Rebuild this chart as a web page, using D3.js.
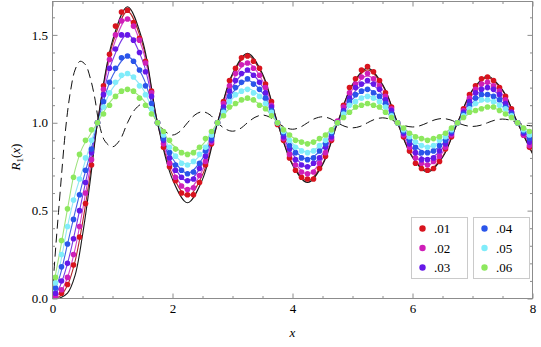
<!DOCTYPE html>
<html>
<head>
<meta charset="utf-8">
<script src="https://cdn.jsdelivr.net/npm/d3@7"></script>
<style>
  html, body { margin: 0; padding: 0; background: #fff; }
  svg, svg text { font-family: "Liberation Serif", "Times New Roman", serif; }
</style>
</head>
<body>
<svg id="chart" width="541" height="347"></svg>
<script>
// ---- data -------------------------------------------------------------
// abscissae of the smooth curves
const fitX = [0, 0.125, 0.25, 0.375, 0.5, 0.625, 0.75, 1, 1.25, 1.5, 1.75, 2, 2.25, 2.5, 2.75,
  3, 3.25, 3.5, 3.75, 4, 4.25, 4.5, 4.75, 5, 5.25, 5.5, 5.75, 6, 6.25, 6.5, 6.75, 7, 7.25, 7.5, 7.75, 8];

// limiting curve (solid black)
const theory = [0, 0.003, 0.03, 0.13, 0.36, 0.66, 1, 1.467, 1.66, 1.467, 1, 0.678, 0.545, 0.678, 1,
  1.279, 1.395, 1.279, 1, 0.76, 0.66, 0.76, 1, 1.219, 1.31, 1.219, 1, 0.802, 0.72, 0.802, 1, 1.187, 1.265, 1.187, 1, 0.823];

// fitted curves, one per parameter value
const fit01 = [0, 0.012, 0.075, 0.21, 0.43, 0.70, 1, 1.448, 1.634, 1.448, 1, 0.704, 0.581, 0.704, 1,
  1.271, 1.383, 1.271, 1, 0.767, 0.670, 0.767, 1, 1.213, 1.301, 1.213, 1, 0.808, 0.728, 0.808, 1, 1.182, 1.257, 1.182, 1, 0.828];
const fit02 = [0, 0.03, 0.12, 0.28, 0.50, 0.74, 1, 1.420, 1.594, 1.420, 1, 0.730, 0.618, 0.730, 1,
  1.240, 1.340, 1.240, 1, 0.794, 0.708, 0.794, 1, 1.189, 1.267, 1.189, 1, 0.830, 0.759, 0.830, 1, 1.161, 1.228, 1.161, 1, 0.848];
const fit03 = [0, 0.07, 0.20, 0.38, 0.58, 0.78, 1, 1.355, 1.502, 1.355, 1, 0.765, 0.668, 0.765, 1,
  1.206, 1.292, 1.206, 1, 0.822, 0.748, 0.822, 1, 1.162, 1.229, 1.162, 1, 0.854, 0.793, 0.854, 1, 1.139, 1.196, 1.139, 1, 0.869];
const fit04 = [0.01, 0.13, 0.31, 0.49, 0.66, 0.82, 1, 1.266, 1.376, 1.266, 1, 0.797, 0.713, 0.797, 1,
  1.170, 1.241, 1.170, 1, 0.854, 0.793, 0.854, 1, 1.134, 1.189, 1.134, 1, 0.879, 0.829, 0.879, 1, 1.115, 1.162, 1.115, 1, 0.892];
const fit05 = [0.02, 0.19, 0.41, 0.59, 0.73, 0.87, 1, 1.196, 1.277, 1.196, 1, 0.832, 0.763, 0.832, 1,
  1.137, 1.194, 1.137, 1, 0.882, 0.833, 0.882, 1, 1.107, 1.152, 1.107, 1, 0.903, 0.863, 0.903, 1, 1.092, 1.130, 1.092, 1, 0.913];
const fit06 = [0.05, 0.27, 0.51, 0.73, 0.86, 0.93, 1, 1.135, 1.191, 1.135, 1, 0.875, 0.823, 0.875, 1,
  1.095, 1.134, 1.095, 1, 0.918, 0.884, 0.918, 1, 1.074, 1.105, 1.074, 1, 0.933, 0.905, 0.933, 1, 1.064, 1.090, 1.064, 1, 0.940];

// sampled points at x = 0.05, 0.15, ..., 7.95
const dotX = d3.range(80).map(i => +(0.05 + 0.1 * i).toFixed(2));
const dots01 = [0.01, 0.03, 0.08, 0.19, 0.35, 0.54, 0.76, 1.00,
  1.21, 1.39, 1.55, 1.63, 1.64, 1.57, 1.48, 1.35, 1.18, 1.00,
  0.86, 0.75, 0.67, 0.60, 0.59, 0.59, 0.66, 0.76, 0.88, 1.00,
  1.12, 1.24, 1.31, 1.37, 1.38, 1.35, 1.31, 1.22, 1.12, 0.99,
  0.90, 0.80, 0.73, 0.69, 0.68, 0.68, 0.74, 0.81, 0.90, 1.00,
  1.10, 1.20, 1.25, 1.30, 1.32, 1.29, 1.24, 1.17, 1.09, 1.00,
  0.92, 0.84, 0.77, 0.74, 0.73, 0.74, 0.78, 0.85, 0.92, 1.00,
  1.08, 1.16, 1.21, 1.25, 1.26, 1.24, 1.20, 1.15, 1.08, 1.00,
  0.93, 0.86];
const dots02 = [0.01, 0.05, 0.12, 0.25, 0.41, 0.60, 0.79, 1.00,
  1.19, 1.36, 1.50, 1.58, 1.59, 1.55, 1.47, 1.34, 1.17, 1.00,
  0.88, 0.77, 0.69, 0.64, 0.62, 0.63, 0.70, 0.78, 0.89, 1.00,
  1.11, 1.21, 1.28, 1.33, 1.34, 1.31, 1.27, 1.20, 1.10, 1.00,
  0.91, 0.82, 0.76, 0.72, 0.71, 0.72, 0.77, 0.83, 0.91, 1.01,
  1.09, 1.17, 1.22, 1.26, 1.28, 1.25, 1.21, 1.15, 1.08, 1.00,
  0.93, 0.86, 0.80, 0.77, 0.76, 0.78, 0.81, 0.86, 0.93, 1.00,
  1.07, 1.14, 1.19, 1.22, 1.23, 1.21, 1.18, 1.13, 1.06, 1.00,
  0.93, 0.87];
const dots03 = [0.03, 0.10, 0.20, 0.34, 0.50, 0.66, 0.83, 1.00,
  1.16, 1.31, 1.42, 1.50, 1.50, 1.47, 1.40, 1.29, 1.15, 1.00,
  0.90, 0.80, 0.73, 0.69, 0.67, 0.68, 0.74, 0.81, 0.90, 1.00,
  1.09, 1.18, 1.24, 1.28, 1.30, 1.27, 1.23, 1.17, 1.09, 1.00,
  0.92, 0.85, 0.79, 0.76, 0.75, 0.77, 0.80, 0.86, 0.92, 1.00,
  1.07, 1.14, 1.20, 1.22, 1.24, 1.22, 1.19, 1.13, 1.07, 1.00,
  0.94, 0.88, 0.83, 0.79, 0.79, 0.80, 0.84, 0.88, 0.94, 1.00,
  1.06, 1.12, 1.17, 1.19, 1.20, 1.19, 1.16, 1.11, 1.06, 1.00,
  0.94, 0.89];
const dots04 = [0.06, 0.18, 0.31, 0.45, 0.59, 0.73, 0.85, 1.00,
  1.12, 1.23, 1.31, 1.37, 1.38, 1.35, 1.30, 1.21, 1.11, 1.00,
  0.91, 0.83, 0.76, 0.73, 0.71, 0.72, 0.77, 0.84, 0.91, 1.00,
  1.07, 1.15, 1.20, 1.23, 1.25, 1.22, 1.19, 1.14, 1.07, 1.00,
  0.94, 0.87, 0.83, 0.80, 0.79, 0.80, 0.84, 0.88, 0.94, 1.00,
  1.06, 1.12, 1.16, 1.18, 1.19, 1.17, 1.15, 1.11, 1.05, 1.00,
  0.95, 0.90, 0.86, 0.83, 0.83, 0.84, 0.87, 0.90, 0.95, 1.00,
  1.05, 1.10, 1.14, 1.16, 1.16, 1.15, 1.13, 1.09, 1.05, 1.00,
  0.95, 0.91];
const dots05 = [0.09, 0.25, 0.41, 0.56, 0.68, 0.80, 0.90, 1.00,
  1.09, 1.17, 1.23, 1.27, 1.28, 1.26, 1.21, 1.16, 1.08, 1.00,
  0.93, 0.86, 0.81, 0.77, 0.76, 0.78, 0.82, 0.86, 0.93, 1.00,
  1.06, 1.12, 1.16, 1.18, 1.19, 1.17, 1.15, 1.11, 1.06, 1.00,
  0.95, 0.90, 0.86, 0.84, 0.83, 0.84, 0.87, 0.90, 0.95, 1.00,
  1.05, 1.10, 1.12, 1.14, 1.15, 1.14, 1.12, 1.09, 1.04, 1.00,
  0.96, 0.92, 0.89, 0.87, 0.86, 0.87, 0.90, 0.92, 0.96, 1.00,
  1.04, 1.08, 1.11, 1.13, 1.13, 1.12, 1.10, 1.08, 1.04, 1.00,
  0.96, 0.93];
const dots06 = [0.12, 0.33, 0.51, 0.69, 0.82, 0.90, 0.96, 1.00,
  1.05, 1.10, 1.15, 1.18, 1.19, 1.18, 1.14, 1.10, 1.05, 1.00,
  0.95, 0.90, 0.85, 0.83, 0.82, 0.83, 0.86, 0.91, 0.95, 1.00,
  1.04, 1.09, 1.11, 1.13, 1.14, 1.13, 1.10, 1.08, 1.04, 1.00,
  0.96, 0.93, 0.90, 0.89, 0.88, 0.89, 0.91, 0.93, 0.96, 1.00,
  1.03, 1.06, 1.09, 1.10, 1.11, 1.10, 1.09, 1.06, 1.03, 1.00,
  0.97, 0.94, 0.92, 0.91, 0.90, 0.91, 0.92, 0.94, 0.97, 1.00,
  1.03, 1.06, 1.07, 1.08, 1.09, 1.09, 1.07, 1.05, 1.03, 1.00,
  0.97, 0.95];

// reference curve (dashed)
const dashX = [0, 0.01, 0.03, 0.06, 0.1, 0.15, 0.2, 0.25, 0.3, 0.375, 0.46, 0.55, 0.625, 0.7, 0.775, 0.875, 1]
  .concat(d3.range(1.125, 8.001, 0.125));
const dashY = [0, 0.08, 0.18, 0.32, 0.49, 0.70, 0.90, 1.06, 1.18, 1.30, 1.35, 1.33, 1.26, 1.15, 1.00, 0.895, 0.863,
  0.903, 1.0, 1.076, 1.107, 1.076, 1.0, 0.951, 0.93, 0.951, 1.0, 1.045, 1.063, 1.045, 1.0, 0.966, 0.952, 0.966,
  1.0, 1.031, 1.044, 1.031, 1.0, 0.974, 0.963, 0.974, 1.0, 1.024, 1.034, 1.024, 1.0, 0.979, 0.971, 0.979,
  1.0, 1.020, 1.028, 1.020, 1.0, 0.983, 0.976, 0.983, 1.0, 1.017, 1.024, 1.017, 1.0, 0.985, 0.979, 0.985,
  1.0, 1.015, 1.021, 1.015, 1.0, 0.987, 0.982];

const labels = [".01", ".02", ".03", ".04", ".05", ".06"];
const dotColors  = ["#d8141e", "#cf1fb8", "#6618e8", "#2a55ea", "#80ecfa", "#8de85e"];
const lineColors = ["#b3282a", "#d543c9", "#7a3ae6", "#4262e6", "#92e6f4", "#9fe37f"];
const fits = [fit01, fit02, fit03, fit04, fit05, fit06];
const dotSets = [dots01, dots02, dots03, dots04, dots05, dots06];

const xMajor = [0, 2, 4, 6, 8];
const xMinor = d3.range(0.5, 8, 0.5).filter(v => v % 2 !== 0);
const yMajor = [0, 0.5, 1.0, 1.5];
const yMinor = d3.range(1, 17).map(i => i / 10).filter(v => Math.abs(v * 2 - Math.round(v * 2)) > 1e-9);

// ---- layout -----------------------------------------------------------
const serif = "'Liberation Serif', 'Times New Roman', serif";
const frame = { left: 52.5, right: 532.5, top: 1.5, bottom: 298.5 };
const x = d3.scaleLinear().domain([0, 8]).range([frame.left, frame.right]);
const y = d3.scaleLinear().domain([0, 1.69]).range([frame.bottom, frame.top]);
const frameColor = "#8c8c8c";

const svg = d3.select("#chart");
svg.append("rect").attr("width", 541).attr("height", 347).attr("fill", "#fff");

svg.append("defs").append("clipPath").attr("id", "plot-clip")
  .append("rect")
  .attr("x", frame.left).attr("y", frame.top)
  .attr("width", frame.right - frame.left).attr("height", frame.bottom - frame.top);

// ---- axes (ticks point inward on all four sides) ----------------------
function styleAxis(g) {
  g.select(".domain").remove();
  g.attr("font-family", null).attr("font-size", null);
  g.selectAll(".tick line").attr("stroke", frameColor).attr("stroke-width", 1);
  g.selectAll(".tick text").attr("fill", "#000")
    .style("font-family", serif).style("font-size", "13px");
}

svg.append("g").attr("transform", `translate(0,${frame.bottom})`)
  .call(d3.axisBottom(x).tickValues(xMajor).tickSize(-5).tickPadding(5.5).tickFormat(d3.format("d")))
  .call(styleAxis);
svg.append("g").attr("transform", `translate(0,${frame.bottom})`)
  .call(d3.axisBottom(x).tickValues(xMinor).tickSize(-2.5).tickFormat(""))
  .call(styleAxis);
svg.append("g").attr("transform", `translate(0,${frame.top})`)
  .call(d3.axisTop(x).tickValues(xMajor).tickSize(-5).tickFormat(""))
  .call(styleAxis);
svg.append("g").attr("transform", `translate(0,${frame.top})`)
  .call(d3.axisTop(x).tickValues(xMinor).tickSize(-2.5).tickFormat(""))
  .call(styleAxis);

svg.append("g").attr("transform", `translate(${frame.left},0)`)
  .call(d3.axisLeft(y).tickValues(yMajor).tickSize(-5).tickPadding(4.5).tickFormat(d3.format(".1f")))
  .call(styleAxis);
svg.append("g").attr("transform", `translate(${frame.left},0)`)
  .call(d3.axisLeft(y).tickValues(yMinor).tickSize(-2.5).tickFormat(""))
  .call(styleAxis);
svg.append("g").attr("transform", `translate(${frame.right},0)`)
  .call(d3.axisRight(y).tickValues(yMajor).tickSize(-5).tickFormat(""))
  .call(styleAxis);
svg.append("g").attr("transform", `translate(${frame.right},0)`)
  .call(d3.axisRight(y).tickValues(yMinor).tickSize(-2.5).tickFormat(""))
  .call(styleAxis);

// ---- curves and points -----------------------------------------------
const plot = svg.append("g").attr("clip-path", "url(#plot-clip)");
const line = d3.line().x(d => x(d[0])).y(d => y(d[1])).curve(d3.curveCatmullRom.alpha(0.5));

plot.append("path")
  .datum(dashX.map((v, i) => [v, dashY[i]]))
  .attr("d", line).attr("fill", "none")
  .attr("stroke", "#111").attr("stroke-width", 1)
  .attr("stroke-dasharray", "9,5");

fits.forEach((vals, k) => {
  plot.append("path")
    .datum(fitX.map((v, i) => [v, vals[i]]))
    .attr("d", line).attr("fill", "none")
    .attr("stroke", lineColors[k]).attr("stroke-width", 1.1);
});

plot.append("path")
  .datum(fitX.map((v, i) => [v, theory[i]]))
  .attr("d", line).attr("fill", "none")
  .attr("stroke", "#1a1a1a").attr("stroke-width", 1.1);

dotSets.forEach((vals, k) => {
  plot.append("g").selectAll("circle")
    .data(dotX.map((v, i) => [v, vals[i]]))
    .join("circle")
    .attr("cx", d => x(d[0])).attr("cy", d => y(d[1]))
    .attr("r", 2.8).attr("fill", dotColors[k]);
});

// frame
svg.append("rect")
  .attr("x", frame.left).attr("y", frame.top)
  .attr("width", frame.right - frame.left).attr("height", frame.bottom - frame.top)
  .attr("fill", "none").attr("stroke", frameColor).attr("stroke-width", 1);

// ---- axis titles ------------------------------------------------------
svg.append("text")
  .attr("x", x(4)).attr("y", 337)
  .attr("text-anchor", "middle").style("font-family", serif).style("font-size", "13px")
  .attr("font-style", "italic")
  .text("x");

const yTitle = svg.append("text")
  .attr("transform", "translate(20,157) rotate(-90)")
  .attr("text-anchor", "middle").style("font-family", serif).style("font-size", "13px");
yTitle.append("tspan").attr("font-style", "italic").text("R");
yTitle.append("tspan").style("font-size", "9px").attr("dy", 3).text("1");
yTitle.append("tspan").attr("dy", -3).text("(");
yTitle.append("tspan").attr("font-style", "italic").text("x");
yTitle.append("tspan").text(")");

// ---- legend: two framed columns of three entries ----------------------
const legendBoxes = [{ x: 411.5, items: [0, 1, 2] }, { x: 473.5, items: [3, 4, 5] }];
const legend = svg.append("g");
legendBoxes.forEach(box => {
  legend.append("rect")
    .attr("x", box.x).attr("y", 217.5).attr("width", 56).attr("height", 61)
    .attr("fill", "#fff").attr("stroke", "#cacaca").attr("stroke-width", 1);
  box.items.forEach((k, r) => {
    const cy = 228.5 + r * 19.5;
    legend.append("circle").attr("cx", box.x + 11).attr("cy", cy).attr("r", 3.2).attr("fill", dotColors[k]);
    legend.append("text").attr("x", box.x + 22.5).attr("y", cy + 4.5)
      .style("font-family", serif).style("font-size", "13px").attr("fill", "#000").text(labels[k]);
  });
});
</script>
</body>
</html>
